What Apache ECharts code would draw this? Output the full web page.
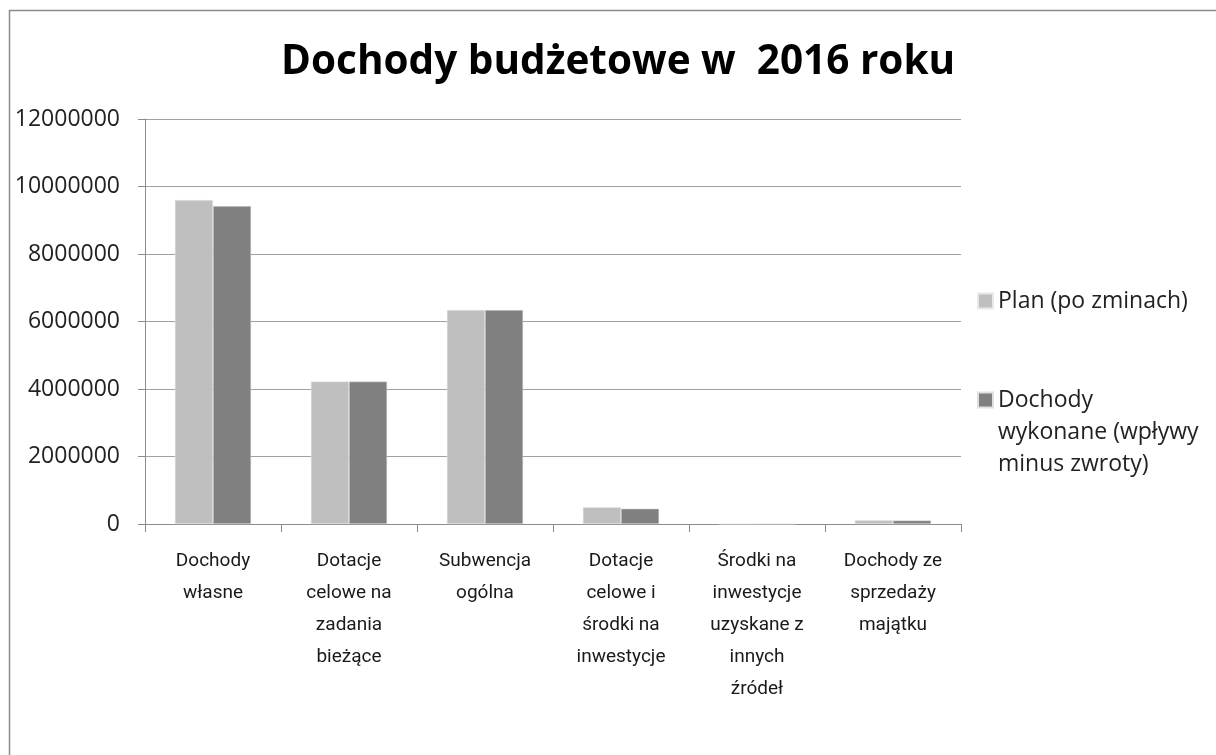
<!DOCTYPE html>
<html>
<head>
<meta charset="utf-8">
<script src="https://cdn.jsdelivr.net/npm/echarts@6/dist/echarts.min.js"></script>
<style>
  html, body { margin: 0; padding: 0; background: #fff; }
  #echart_dochody { width: 1216px; height: 755px; }
</style>
</head>
<body>
<div id="echart_dochody"></div>
<script>
var kategorie = [
  "Dochody\nwłasne",
  "Dotacje\ncelowe na\nzadania\nbieżące",
  "Subwencja\nogólna",
  "Dotacje\ncelowe i\nśrodki na\ninwestycje",
  "Środki na\ninwestycje\nuzyskane z\ninnych\nźródeł",
  "Dochody ze\nsprzedaży\nmajątku"
];
var plan = [9600000, 4220000, 6340000, 495000, 0, 110000];
var wykonane = [9420000, 4220000, 6340000, 455000, 0, 105000];
var seriaNazwy = ["Plan (po zminach)", "Dochody wykonane (wpływy minus zwroty)"];

var myChart = echarts.init(document.getElementById("echart_dochody"));
myChart.setOption({
  animation: false,
  backgroundColor: "#fff",
  title: {
    text: "Dochody budżetowe w  2016 roku",
    left: 276,
    top: 37,
    textStyle: {
      fontFamily: "Open Sans",
      fontWeight: "bold",
      fontSize: 40.5,
      color: "#000"
    }
  },
  graphic: [
    {
      type: "rect",
      shape: { x: 9.5, y: 10.5, width: 1220, height: 800 },
      style: { fill: "none", stroke: "#8c8c8c", lineWidth: 1.5 },
      silent: true
    }
  ],
  legend: {
    orient: "vertical",
    left: 977,
    top: 285,
    padding: 0,
    itemWidth: 15,
    itemHeight: 15,
    itemGap: 3,
    icon: "rect",
    textStyle: {
      fontFamily: "Open Sans",
      fontSize: 23,
      color: "#222",
      lineHeight: 32
    },
    formatter: function(name) {
      if (name === seriaNazwy[1]) {
        // puste linie na górze, żeby ikona stała przy pierwszej linii
        return "\n\nDochody\nwykonane (wpływy\nminus zwroty)";
      }
      return name;
    },
    data: seriaNazwy
  },
  grid: {
    left: 145,
    right: 255,
    top: 119,
    bottom: 231,
    containLabel: false
  },
  xAxis: [
    {
      type: "category",
      data: kategorie,
      boundaryGap: true,
      axisLine: { show: true, lineStyle: { color: "#8c8c8c", width: 1 } },
      axisTick: { show: true, length: 8, lineStyle: { color: "#8c8c8c" } },
      axisLabel: {
        interval: 0,
        margin: 21,
        fontFamily: "Roboto",
        fontSize: 19,
        lineHeight: 32,
        color: "#1a1a1a"
      }
    }
  ],
  yAxis: [
    {
      type: "value",
      min: 0,
      max: 12000000,
      interval: 2000000,
      axisLine: { show: true, lineStyle: { color: "#8c8c8c", width: 1 } },
      axisTick: { show: true, length: 7, lineStyle: { color: "#8c8c8c" } },
      splitLine: { show: true, lineStyle: { color: "#a0a0a0", width: 1 } },
      axisLabel: {
        margin: 25,
        fontFamily: "Open Sans",
        fontSize: 23,
        color: "#222",
        formatter: function(val) {
          return String(val);
        }
      }
    }
  ],
  series: [
    {
      name: seriaNazwy[0],
      type: "bar",
      barGap: "0%",
      barCategoryGap: "44%",
      itemStyle: { color: "#bfbfbf", borderColor: "#e8e8e8", borderWidth: 0.5 },
      data: plan
    },
    {
      name: seriaNazwy[1],
      type: "bar",
      itemStyle: { color: "#808080", borderColor: "#e0e0e0", borderWidth: 0.5 },
      data: wykonane
    }
  ]
});
</script>
</body>
</html>
